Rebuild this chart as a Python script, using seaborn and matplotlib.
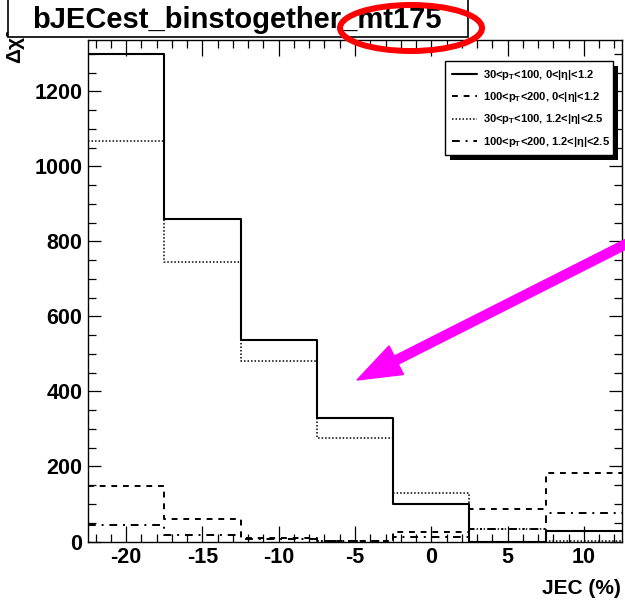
import numpy as np
import pandas as pd
import matplotlib
matplotlib.use("Agg")
import matplotlib.pyplot as plt
import seaborn as sns
from matplotlib.patches import Ellipse, FancyArrow, Rectangle
from matplotlib.transforms import IdentityTransform
from matplotlib.lines import Line2D

# ---------------- data ----------------
bin_edges = [-22.5, -17.5, -12.5, -7.5, -2.5, 2.5, 7.5, 12.5]
bin_centers = [-20, -15, -10, -5, 0, 5, 10]
series_labels = [
    "30<p$_{T}$<100, 0<|η|<1.2",
    "100<p$_{T}$<200, 0<|η|<1.2",
    "30<p$_{T}$<100, 1.2<|η|<2.5",
    "100<p$_{T}$<200, 1.2<|η|<2.5",
]
vals_pt30_central = [1301, 860, 536, 329, 99, 0, 29]
vals_pt100_central = [148, 61, 8, 2, 26, 86, 182]
vals_pt30_forward = [1067, 746, 482, 276, 128, 34, 2]
vals_pt100_forward = [45, 18, 6, 2, 13, 34, 75]
x_ticks = [-20, -15, -10, -5, 0, 5, 10]
y_ticks = [0, 200, 400, 600, 800, 1000, 1200]
title_text = "bJECest_binstogether_mt175"
x_label = "JEC (%)"
y_label = "Δχ²"

# ---------------- style ----------------
sns.set_style("ticks")
plt.rcParams['font.family'] = ['Liberation Sans', 'DejaVu Sans']
plt.rcParams['font.weight'] = 'bold'
plt.rcParams['mathtext.fontset'] = 'custom'
plt.rcParams['mathtext.rm'] = 'Liberation Sans:bold'
plt.rcParams['mathtext.it'] = 'Liberation Sans:bold'
plt.rcParams['mathtext.bf'] = 'Liberation Sans:bold'
plt.rcParams['text.color'] = 'black'
plt.rcParams['axes.labelcolor'] = 'black'
plt.rcParams['xtick.color'] = 'black'
plt.rcParams['ytick.color'] = 'black'
plt.rcParams['axes.unicode_minus'] = False

W, H = 625, 606
fig = plt.figure(figsize=(W / 100, H / 100), dpi=100)
ax = fig.add_axes([88 / W, (H - 541.5) / H, (622 - 88) / W, (541.5 - 40) / H])

styles = [
    dict(linestyle='-', linewidth=1.5),
    dict(linestyle=(0, (3, 3)), linewidth=1.4),
    dict(linestyle=(0, (1, 1.3)), linewidth=1.1),
    dict(linestyle=(0, (4, 3, 1, 3)), linewidth=1.4),
]
all_vals = [vals_pt30_central, vals_pt100_central, vals_pt30_forward, vals_pt100_forward]

for vals, st in zip(all_vals, styles):
    df = pd.DataFrame({"JEC": bin_centers, "w": vals})
    sns.histplot(data=df, x="JEC", weights="w", bins=bin_edges, element="step",
                 fill=False, color="black", ax=ax, **st)

ax.set_xlim(-22.5, 12.5)
ax.set_ylim(0, 1337)
ax.set_xticks(x_ticks)
ax.set_xticks(np.arange(-22, 13, 1), minor=True)
ax.set_yticks(y_ticks)
ax.set_yticks(np.arange(0, 1337, 50), minor=True)
ax.set_ylabel("")
ax.set_xlabel(x_label, loc='right', fontsize=15, fontweight='bold', color='black')
ax.xaxis.set_label_coords(0.998, -0.074)

ax.tick_params(axis='both', which='both', direction='in', top=True, right=True,
               color='black', labelcolor='black', width=0.9, labelsize=15.5)
ax.tick_params(axis='x', which='major', length=11.5, pad=4)
ax.tick_params(axis='x', which='minor', length=5.8)
ax.tick_params(axis='y', which='major', length=9.4, pad=4)
ax.tick_params(axis='y', which='minor', length=6.0)
for lab in ax.get_xticklabels() + ax.get_yticklabels():
    lab.set_fontweight('bold')
for sp in ax.spines.values():
    sp.set_linewidth(1.0)
    sp.set_color('black')

# legend
handles = [Line2D([], [], color='black', **st) for st in styles]
leg = ax.legend(handles, series_labels, loc='upper left',
                bbox_to_anchor=(0.6685, 0.5, 0.314, 0.458), mode='expand',
                borderaxespad=0, prop=dict(size=8, weight='bold'),
                handlelength=2.3, handletextpad=0.5, labelspacing=0.75,
                borderpad=0.6, fancybox=False, frameon=True)
leg.get_frame().set_edgecolor('black')
leg.get_frame().set_linewidth(1.0)
leg.get_frame().set_alpha(1)
for t in leg.get_texts():
    t.set_color('black')

fig.canvas.draw()
bb = leg.get_window_extent()
inv = ax.transAxes.inverted()
(x0, y0) = inv.transform((bb.x0 + 5, bb.y0 - 5))
(x1, y1) = inv.transform((bb.x1 + 5, bb.y1 - 5))
shadow = Rectangle((x0, y0), x1 - x0, y1 - y0, transform=ax.transAxes,
                   facecolor='black', edgecolor='none', zorder=4.5, clip_on=False)
ax.add_artist(shadow)

# y label (partially hidden behind title box)
fig.text(15 / W, (H - 63) / H, y_label, rotation=90, ha='center', va='bottom',
         fontsize=15, fontweight='bold', color='black', zorder=3)

# title box
fig.add_artist(Rectangle((8, H - 37), 460, 45, transform=IdentityTransform(),
                         facecolor='white', edgecolor='black', linewidth=1.2, zorder=5))
fig.text(237 / W, (H - 20) / H, title_text, ha='center', va='center',
         fontsize=21, fontweight='bold', color='black', zorder=6)

# red ellipse annotation
fig.add_artist(Ellipse((411, H - 28), 142, 46, transform=IdentityTransform(),
                       fill=False, edgecolor='#ff0000', linewidth=4.3, zorder=7))

# magenta arrow
fig.add_artist(FancyArrow(634, H - 240, -277, -140, width=9, head_width=32,
                          head_length=44, length_includes_head=True,
                          color='#ff00ff', transform=IdentityTransform(), zorder=7))

fig.savefig("out.png", dpi=100)
